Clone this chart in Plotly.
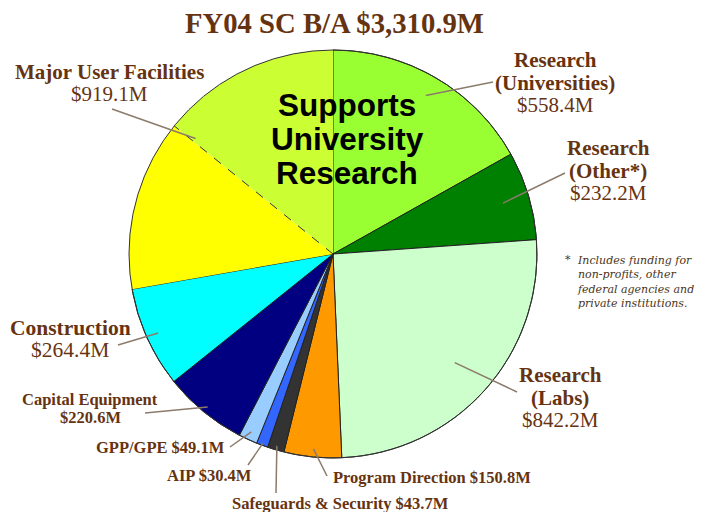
import math
import plotly.graph_objects as go

# ---------------- data ----------------
categories = ["Research (Universities)", "Research (Other*)", "Research (Labs)",
              "Program Direction", "Safeguards & Security", "AIP", "GPP/GPE",
              "Capital Equipment", "Construction", "Major User Facilities"]
values = [558.4, 232.2, 842.2, 150.8, 43.7, 30.4, 49.1, 220.6, 264.4, 919.1]
# estimated portion of Major User Facilities shaded as supporting university research
muf_university_part = 470.0
total_label = "FY04 SC B/A $3,310.9M"

colors = ["#99FF33", "#008000", "#CCFFCC", "#FF9900", "#333333", "#3366FF",
          "#99CCFF", "#000080", "#00FFFF", "#FFFF00", "#CCFF33"]

# ---------------- layout constants ----------------
W, H = 702, 512
OFF = 8  # page body margin
CX, CY, R = 333, 254, 204
TXT = "#663311"
LEAD = "#8C7B6B"

slice_labels = categories[:-1] + ["Major User Facilities", "Major User Facilities (university users)"]
slice_values = values[:-1] + [values[-1] - muf_university_part, muf_university_part]
total = sum(values)


def px(x):
    return (x - OFF) / W


def py(y):
    return 1 - (y - OFF) / H


fig = go.Figure(go.Pie(
    labels=slice_labels,
    values=slice_values,
    sort=False,
    direction="clockwise",
    rotation=0,
    textinfo="none",
    hoverinfo="label+value",
    marker=dict(colors=colors,
                line=dict(color="#222222", width=[1] * 9 + [0, 0])),
    domain=dict(x=[px(CX - R), px(CX + R)],
                y=[py(CY + R), py(CY - R)]),
    showlegend=False,
))


def polar(theta_deg, frac):
    t = math.radians(theta_deg)
    return CX + frac * R * math.sin(t), CY - frac * R * math.cos(t)


# mid-angle for each category (whole Major User Facilities slice)
cum = 0.0
mids = []
for v in values:
    mids.append((cum + v / 2) / total * 360)
    cum += v

shapes = []
# circular outline
shapes.append(dict(type="circle", xref="paper", yref="paper",
                   x0=px(CX - R), x1=px(CX + R), y0=py(CY + R), y1=py(CY - R),
                   line=dict(color="#333333", width=1)))
# dashed boundary between yellow and yellow-green parts
ang = 360 - muf_university_part / total * 360
ex, ey = polar(ang, 1.0)
shapes.append(dict(type="line", xref="paper", yref="paper",
                   x0=px(CX), y0=py(CY), x1=px(ex), y1=py(ey),
                   line=dict(color="#333333", width=1, dash="dash")))


def money(v):
    return "${:,.1f}M".format(v)


# label specs: (category index, lines [(text,bold)], center x, first line y, spacing, size, inner frac, outer point)
labels = [
    (0, [("Research", True), ("(Universities)", True), (money(values[0]), False)], 555, 60, 22.5, 21, 0.9, (493, 82)),
    (1, [("Research", True), ("(Other*)", True), (money(values[1]), False)], 608, 148, 22.5, 21, 0.87, (565, 173)),
    (2, [("Research", True), ("(Labs)", True), (money(values[2]), False)], 560, 375, 22.5, 21, 0.8, (517, 392)),
    (3, [("Program Direction " + money(values[3]), True)], 432, 477, 0, 16.5, 0.96, (327, 476)),
    (4, [("Safeguards &amp; Security " + money(values[4]), True)], 340, 503, 0, 16.5, 0.98, (276, 493)),
    (5, [("AIP " + money(values[5]), True)], 209, 475, 0, 16.5, 0.99, (248, 465)),
    (6, [("GPP/GPE " + money(values[6]), True)], 160, 447, 0, 16.5, 0.96, (230, 447)),
    (7, [("Capital Equipment", True), (money(values[7]), True)], 90, 399, 18.5, 16.5, 0.97, (145, 413)),
    (8, [("Construction", True), (money(values[8]), False)], 70, 328, 22, 21.5, 0.94, (118, 345)),
    (9, [("Major User Facilities", True), (money(values[9]), False)], 109, 72, 21.5, 21, 0.88, (112, 109)),
]

annotations = []
for idx, lines, x, y0, sp, size, frac, outer in labels:
    for i, (t, b) in enumerate(lines):
        annotations.append(dict(
            x=px(x), y=py(y0 + i * sp), xref="paper", yref="paper",
            text="<b>%s</b>" % t if b else t, showarrow=False,
            xanchor="center", yanchor="middle",
            font=dict(family="Liberation Serif", size=size, color=TXT)))
    ix, iy = polar(mids[idx], frac)
    shapes.append(dict(type="line", xref="paper", yref="paper",
                       x0=px(ix), y0=py(iy), x1=px(outer[0]), y1=py(outer[1]),
                       line=dict(color=LEAD, width=1.5)))

# title
annotations.append(dict(x=px(334), y=py(23), xref="paper", yref="paper",
                        text="<b>%s</b>" % total_label, showarrow=False,
                        xanchor="center", yanchor="middle",
                        font=dict(family="Liberation Serif", size=28.7, color=TXT)))

# supports university research
for i, t in enumerate(["Supports", "University", "Research"]):
    annotations.append(dict(x=px(347), y=py(105 + i * 34), xref="paper", yref="paper",
                            text="<b>%s</b>" % t, showarrow=False,
                            xanchor="center", yanchor="middle",
                            font=dict(family="Liberation Sans", size=31.5, color="#000000")))

# footnote
foot = ["Includes funding for", "non-profits, other", "federal agencies and", "private institutions."]
annotations.append(dict(x=px(568), y=py(259), xref="paper", yref="paper",
                        text="<i>*</i>", showarrow=False, xanchor="center", yanchor="middle",
                        font=dict(family="DejaVu Serif", size=11, color="#4A3520")))
annotations.append(dict(x=px(575), y=py(252), xref="paper", yref="paper",
                        text="<i>%s</i>" % "<br>".join(foot), showarrow=False,
                        xanchor="left", yanchor="top", align="left",
                        font=dict(family="DejaVu Serif", size=11, color="#4A3520")))

fig.update_layout(
    width=W, height=H,
    margin=dict(l=0, r=0, t=0, b=0),
    paper_bgcolor="white", plot_bgcolor="white",
    shapes=shapes, annotations=annotations,
)

fig.write_html("out.html")
